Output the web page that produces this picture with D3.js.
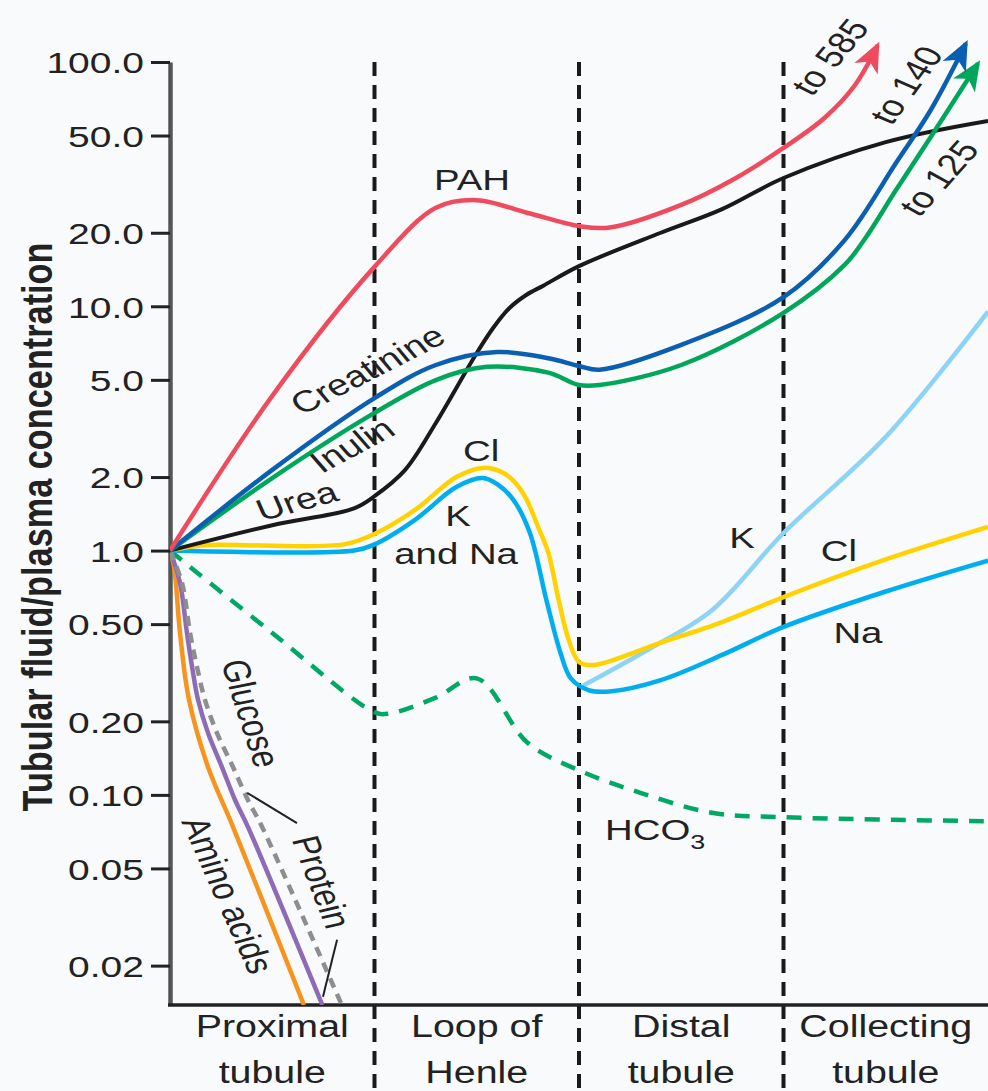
<!DOCTYPE html>
<html lang="en">
<head>
<meta charset="UTF-8">
<title>Tubular fluid/plasma concentration along the nephron</title>
<style>
    body { margin: 0; background: #f8fafc; }
    svg { display: block; }
    text { font-family: "Liberation Sans", Arial, Helvetica, sans-serif; fill: #222; }
</style>
</head>
<body>
<script src="https://cdn.jsdelivr.net/npm/d3@7/dist/d3.min.js"></script>
<script>
const width = 988;
const height = 1091;

// nephron segments (x runs 0..4, one unit per segment)
const segments = [["Proximal", "tubule"], ["Loop of", "Henle"], ["Distal", "tubule"], ["Collecting", "tubule"]];
const yTicks = [100, 50, 20, 10, 5, 2, 1, 0.5, 0.2, 0.1, 0.05, 0.02];
const yTickLabels = ["100.0", "50.0", "20.0", "10.0", "5.0", "2.0", "1.0", "0.50", "0.20", "0.10", "0.05", "0.02"];

// [position along nephron, TF/P ratio]
const pah = [[0, 1], [0.5, 4.3], [1, 14.5], [1.3, 25.3], [1.5, 27.2], [1.75, 24.1], [2, 21.3], [2.15, 21], [2.5, 26], [2.75, 32.9], [3, 44.5], [3.2, 59], [3.35, 80.5], [3.46, 117]];
const creatinine = [[0, 1], [0.5, 2.14], [1, 4.21], [1.3, 5.75], [1.6, 6.5], [1.85, 6.13], [2, 5.7], [2.1, 5.5], [2.5, 6.95], [3, 10.9], [3.3, 18.7], [3.55, 38.6], [3.72, 63.6], [3.892, 119]];
const inulin = [[0, 1], [0.5, 1.98], [1, 3.66], [1.3, 4.99], [1.55, 5.65], [1.85, 5.35], [2, 4.76], [2.1, 4.76], [2.5, 5.75], [3, 9.4], [3.3, 14.8], [3.4, 19.0], [3.55, 29.9], [3.72, 49.3], [3.951, 98.6]];
const urea = [[0, 1], [0.5, 1.27], [0.9, 1.49], [1, 1.67], [1.15, 2.14], [1.3, 3.33], [1.5, 6.44], [1.58, 8.15], [1.66, 9.84], [1.74, 11.1], [1.83, 12.2], [2, 14.6], [2.4, 20], [2.7, 25], [3, 33.5], [3.5, 47], [4, 57.4]];
const chloride = [[0, 1], [0.15, 1.05], [0.85, 1.06], [1, 1.17], [1.2, 1.47], [1.4, 2.0], [1.53, 2.18], [1.62, 2.1], [1.68, 1.93], [1.74, 1.64], [1.8, 1.25], [1.85, 0.98], [1.9, 0.63], [1.95, 0.43], [2, 0.35], [2.07, 0.34], [2.4, 0.42], [2.7, 0.51], [3, 0.645], [3.5, 0.92], [4, 1.25]];
const sodium = [[0, 1], [0.9, 1], [1, 1.06], [1.2, 1.34], [1.4, 1.82], [1.53, 1.98], [1.6, 1.87], [1.68, 1.61], [1.76, 1.18], [1.84, 0.63], [1.91, 0.38], [1.96, 0.3], [2.05, 0.268], [2.15, 0.265], [2.4, 0.295], [2.7, 0.374], [3, 0.487], [3.5, 0.68], [4, 0.91]];
const potassium = [[2.02, 0.28], [2.33, 0.39], [2.65, 0.57], [3, 1.18], [3.5, 2.92], [4, 9.5]];
const bicarbonate = [[0, 1], [0.5, 0.46], [1, 0.218], [1.07, 0.215], [1.3, 0.25], [1.5, 0.3], [1.75, 0.163], [2, 0.126], [2.3, 0.102], [2.65, 0.0845], [3, 0.081], [4, 0.078]];
const glucose = [[0, 1], [0.059, 0.736], [0.098, 0.46], [0.132, 0.334], [0.171, 0.245], [0.23, 0.179], [0.308, 0.13], [0.381, 0.0953], [0.45, 0.074], [0.84, 0.0138]];
const protein = [[0, 1], [0.049, 0.736], [0.083, 0.46], [0.108, 0.334], [0.137, 0.245], [0.186, 0.179], [0.254, 0.13], [0.318, 0.0953], [0.381, 0.074], [0.745, 0.0138]];
const aminoAcids = [[0, 1], [0.02, 0.857], [0.049, 0.46], [0.093, 0.245], [0.186, 0.13], [0.308, 0.074], [0.655, 0.0138]];

const series = [
    {key: 'hco3', data: bicarbonate, color: '#00a866', w: 4.5, dash: '15,11'},
    {key: 'amino', data: aminoAcids, color: '#f7941d', w: 4.5},
    {key: 'protein', data: protein, color: '#8d6cb5', w: 4.5},
    {key: 'glucose', data: glucose, color: '#8e8e8e', w: 4.5, dash: '10,7'},
    {key: 'k', data: potassium, color: '#8dd3f5', w: 4.5},
    {key: 'na', data: sodium, color: '#00aeef', w: 4.5},
    {key: 'cl', data: chloride, color: '#ffd200', w: 4.5},
    {key: 'urea', data: urea, color: '#1a1a1a', w: 4},
    {key: 'inulin', data: inulin, color: '#00a65a', w: 4.5, arrow: true},
    {key: 'creat', data: creatinine, color: '#0b5fb0', w: 4.5, arrow: true},
    {key: 'pah', data: pah, color: '#ef4b5e', w: 4.5, arrow: true}
];

// text annotations, positioned in data space; a = on-screen angle in degrees
const notes = [
    {t: 'PAH', x: 1.477, v: 32.9, a: 0},
    {t: 'Creatinine', x: 0.965, v: 5.5, a: -27},
    {t: 'Inulin', x: 0.89, v: 2.7, a: -28},
    {t: 'Urea', x: 0.62, v: 1.6, a: -15},
    {t: 'Cl', x: 1.521, v: 2.56, a: 0},
    {t: 'K', x: 1.408, v: 1.39, a: 0},
    {t: 'and Na', x: 1.399, v: 0.977, a: 0},
    {t: 'K', x: 2.797, v: 1.13, a: 0},
    {t: 'Cl', x: 3.271, v: 1.005, a: 0},
    {t: 'Na', x: 3.364, v: 0.46, a: 0},
    {t: 'Glucose', x: 0.396, v: 0.216, a: 72},
    {t: 'Protein', x: 0.743, v: 0.044, a: 69},
    {t: 'Amino acids', x: 0.284, v: 0.0389, a: 66},
    {t: 'to 585', x: 3.227, v: 105, a: -50},
    {t: 'to 140', x: 3.6, v: 80.5, a: -54},
    {t: 'to 125', x: 3.76, v: 33.5, a: -48}
];
const leaders = [[[0.377, 0.102], [0.621, 0.0767]], [[0.817, 0.0255], [0.748, 0.0149]]];

const stretch = 1.28; // the original artwork is wider than tall

const svg = d3.select('body').append('svg').attr('width', width).attr('height', height);
svg.append('rect').attr('width', width).attr('height', height).attr('fill', '#f8fafc');

const x = d3.scaleLinear().domain([0, 4]).range([170, 988]);
const y = d3.scaleLog().domain([0.0138, 100]).range([1005, 62]);

function place(sel, px, py, deg, s) {
    const a = deg * Math.PI / 180;
    const a2 = Math.atan2(s * Math.sin(a), Math.cos(a)) * 180 / Math.PI;
    sel.attr('transform', `translate(${px},${py}) scale(${s},1) rotate(${a2})`);
}

// segment boundaries
svg.append('g').selectAll('line').data([1, 2, 3]).enter().append('line')
    .attr('x1', d => x(d)).attr('x2', d => x(d))
    .attr('y1', y(100)).attr('y2', height)
    .attr('stroke', '#1a1a1a').attr('stroke-width', 4).attr('stroke-dasharray', '14,9');

// y axis
const yAxis = svg.append('g').attr('transform', `translate(${x(0)},0)`)
    .call(d3.axisLeft(y).tickValues(yTicks).tickFormat((d, i) => yTickLabels[i]).tickSize(19).tickSizeOuter(0));
yAxis.select('.domain').attr('stroke', '#555').attr('stroke-width', 4.5);
yAxis.selectAll('.tick line').attr('stroke', '#222').attr('stroke-width', 3);
yAxis.selectAll('.tick text')
    .attr('x', 0).attr('dy', '0.36em')
    .attr('transform', `translate(-26,0) scale(1.3,1)`)
    .style('font-size', '30px').style('font-family', '"Liberation Sans", Arial, sans-serif').attr('fill', '#2a2a2a');

// x axis baseline
svg.append('line').attr('x1', x(0) - 2).attr('x2', x(4)).attr('y1', y.range()[0]).attr('y2', y.range()[0])
    .attr('stroke', '#222').attr('stroke-width', 3.5);

// segment names
segments.forEach((lines, i) => {
    lines.forEach((s, j) => {
        const t = svg.append('text').attr('text-anchor', 'middle').style('font-size', '31px').text(s);
        place(t, x(i + 0.5), 1037 + j * 46, 0, 1.27);
    });
});

// y title
const title = svg.append('text').attr('text-anchor', 'middle').attr('dy', '0.35em')
    .style('font-size', '32px').style('font-weight', 'bold')
    .attr('textLength', 569).attr('lengthAdjust', 'spacingAndGlyphs')
    .text('Tubular fluid/plasma concentration');
title.attr('transform', `translate(37,527) scale(1.3,1) rotate(-90)`);

// arrowheads
const defs = svg.append('defs');
series.filter(s => s.arrow).forEach(s => {
    defs.append('marker').attr('id', 'arr-' + s.key)
        .attr('viewBox', '-34 -15 38 30').attr('refX', -4).attr('refY', 0)
        .attr('markerWidth', 38).attr('markerHeight', 30)
        .attr('markerUnits', 'userSpaceOnUse').attr('orient', 'auto')
        .append('path').attr('d', 'M0,0 L-30,-13 L-22,0 L-30,13 Z').attr('fill', s.color);
});
defs.append('clipPath').attr('id', 'plot').append('rect')
    .attr('x', x(0)).attr('y', 0).attr('width', width).attr('height', y.range()[0]);

const line = d3.line().x(d => x(d[0])).y(d => y(d[1])).curve(d3.curveCatmullRom.alpha(0.5));

const curves = svg.append('g').attr('clip-path', 'url(#plot)');
series.forEach(s => {
    curves.append('path').datum(s.data)
        .attr('d', line)
        .attr('fill', 'none')
        .attr('stroke', s.color)
        .attr('stroke-width', s.w)
        .attr('stroke-dasharray', s.dash || null)
        .attr('stroke-linejoin', 'round')
        .attr('marker-end', s.arrow ? `url(#arr-${s.key})` : null);
});

// leader lines for glucose / protein
svg.append('g').selectAll('line').data(leaders).enter().append('line')
    .attr('x1', d => x(d[0][0])).attr('y1', d => y(d[0][1]))
    .attr('x2', d => x(d[1][0])).attr('y2', d => y(d[1][1]))
    .attr('stroke', '#222').attr('stroke-width', 2);

// labels
notes.forEach(n => {
    const t = svg.append('text').attr('text-anchor', 'middle').attr('dy', '0.35em')
        .style('font-size', '30px').text(n.t);
    place(t, x(n.x), y(n.v), n.a, stretch);
});

const hco = svg.append('text').style('font-size', '30px');
hco.append('tspan').text('HCO');
hco.append('tspan').attr('dy', 9).style('font-size', '21px').text('3');
place(hco, x(2.127), y(0.0654), 0, stretch);
</script>
</body>
</html>
